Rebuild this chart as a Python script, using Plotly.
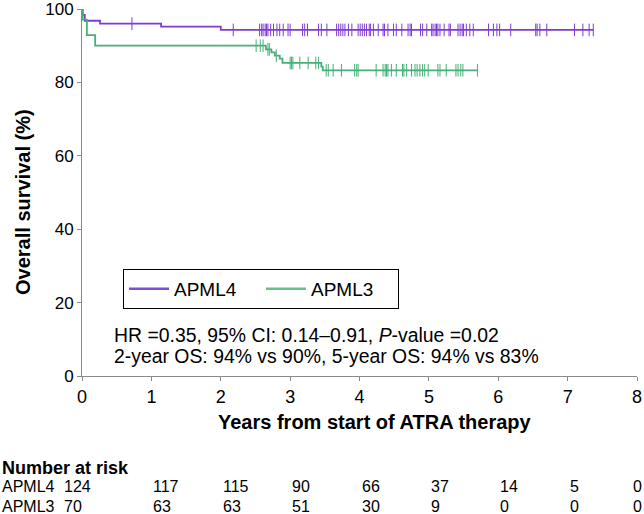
import plotly.graph_objects as go
import numpy as np

# ---- data ----
apml4_t = [0, 0.01, 0.04, 0.26, 1.14, 2.0, 7.37]
apml4_s = [100, 98.4, 96.8, 96.0, 95.2, 94.3, 94.3]
apml4_cens = [0.72, 2.18, 2.56, 2.59, 2.61, 2.64, 2.66, 2.68, 2.72, 2.76, 2.81, 2.85, 2.90,
              2.97, 3.00, 3.18, 3.21, 3.25, 3.41, 3.45, 3.53, 3.67, 3.70, 3.73, 3.76, 3.79,
              3.84, 3.89, 3.98, 4.01, 4.04, 4.07, 4.10, 4.14, 4.16, 4.20, 4.27, 4.34, 4.36,
              4.41, 4.49, 4.53, 4.61, 4.70, 4.73, 4.75, 4.88, 4.91, 4.97, 5.04, 5.06, 5.09,
              5.11, 5.13, 5.16, 5.22, 5.29, 5.31, 5.42, 5.45, 5.48, 5.50, 5.54, 5.59, 5.64,
              5.86, 5.93, 5.98, 6.02, 6.18, 6.54, 6.56, 6.60, 6.70, 7.10, 7.22, 7.31, 7.37]

apml3_t = [0, 0.01, 0.07, 0.19, 2.65, 2.73, 2.78, 2.85, 2.89, 3.45, 3.47, 5.70]
apml3_s = [100, 97.1, 92.9, 90.0, 89.0, 88.2, 87.3, 86.5, 85.3, 84.3, 83.3, 83.3]
apml3_cens = [2.51, 2.57, 2.61, 2.68, 2.70, 2.80, 3.00, 3.02, 3.04, 3.14, 3.26, 3.37, 3.41,
              3.52, 3.55, 3.62, 3.74, 3.93, 3.96, 3.98, 4.24, 4.34, 4.37, 4.39, 4.41, 4.46,
              4.53, 4.62, 4.64, 4.68, 4.75, 4.80, 4.83, 4.87, 4.91, 4.94, 4.99, 5.13, 5.16,
              5.25, 5.39, 5.42, 5.46, 5.49, 5.70]

risk_times = [0, 1, 2, 3, 4, 5, 6, 7, 8]
risk_apml4 = [124, 117, 115, 90, 66, 37, 14, 5, 0]
risk_apml3 = [70, 63, 63, 51, 30, 9, 0, 0, 0]

x_ticks = [0, 1, 2, 3, 4, 5, 6, 7, 8]
y_ticks = [0, 20, 40, 60, 80, 100]

PURPLE = "#7E3BD3"
GREEN = "#45B077"
PURPLE_LEG = "#7C4FD8"
GREEN_LEG = "#6DBE8B"
FONT = "Arial, Liberation Sans, sans-serif"

# plot-area geometry (pixels)
L, R, T, B = 82, 7, 9, 138
PW = 644 - L - R
PH = 514 - T - B


def step_value(ts, ss, t):
    idx = np.searchsorted(ts, t, side="right") - 1
    return ss[max(idx, 0)]


def px_x(px):
    return (px - L) / PW


def px_y(py):
    return (514 - B - py) / PH


fig = go.Figure()

fig.add_trace(go.Scatter(x=apml4_t, y=apml4_s, mode="lines", line=dict(shape="hv", color=PURPLE, width=1.8),
                         showlegend=False))
fig.add_trace(go.Scatter(x=apml3_t, y=apml3_s, mode="lines", line=dict(shape="hv", color=GREEN, width=1.8),
                         showlegend=False))
fig.add_trace(go.Scatter(x=apml4_cens, y=[step_value(apml4_t, apml4_s, t) for t in apml4_cens],
                         mode="markers", showlegend=False,
                         marker=dict(symbol="line-ns", size=9, line=dict(color=PURPLE, width=1))))
fig.add_trace(go.Scatter(x=apml3_cens, y=[step_value(apml3_t, apml3_s, t) for t in apml3_cens],
                         mode="markers", showlegend=False,
                         marker=dict(symbol="line-ns", size=9, line=dict(color=GREEN, width=1))))
# legend entries
fig.add_trace(go.Scatter(x=[None], y=[None], mode="lines", line=dict(color=PURPLE_LEG, width=2.5), name="APML4"))
fig.add_trace(go.Scatter(x=[None], y=[None], mode="lines", line=dict(color=GREEN_LEG, width=2.5), name="APML3"))

annotations = []
# stats text
annotations.append(dict(x=px_x(112), y=px_y(335), xref="paper", yref="paper", xanchor="left",
                        yanchor="middle",
                        text="HR =0.35, 95% CI: 0.14–0.91, <i>P</i>-value =0.02", showarrow=False,
                        font=dict(size=19.4, family=FONT, color="black")))
annotations.append(dict(x=px_x(112), y=px_y(356), xref="paper", yref="paper", xanchor="left",
                        yanchor="middle",
                        text="2-year OS: 94% vs 90%, 5-year OS: 94% vs 83%", showarrow=False,
                        font=dict(size=19.4, family=FONT, color="black")))
# axis titles
annotations.append(dict(x=px_x(375), y=px_y(422), xref="paper", yref="paper", xanchor="center", yanchor="middle",
                        text="<b>Years from start of ATRA therapy</b>", showarrow=False,
                        font=dict(size=20, family=FONT, color="black")))
annotations.append(dict(x=px_x(23), y=px_y(202), xref="paper", yref="paper", xanchor="center",
                        yanchor="middle", textangle=-90,
                        text="<b>Overall survival (%)</b>", showarrow=False,
                        font=dict(size=20, family=FONT, color="black")))
# number at risk
annotations.append(dict(x=px_x(0), y=px_y(468), xref="paper", yref="paper", xanchor="left", yanchor="middle",
                        text="<b>Number at risk</b>", showarrow=False,
                        font=dict(size=18, family=FONT, color="black")))
for row_name, vals, py in [("APML4", risk_apml4, 487), ("APML3", risk_apml3, 506)]:
    yp = px_y(py)
    annotations.append(dict(x=px_x(0), y=yp, xref="paper", yref="paper", xanchor="left", yanchor="middle",
                            text=row_name, showarrow=False, font=dict(size=16, family=FONT, color="black")))
    for t, v in zip(risk_times, vals):
        if t == 0:
            xx = px_x(62)
        elif t == 8:
            xx = px_x(631)
        else:
            xx = t / 8
        annotations.append(dict(x=xx, y=yp, xref="paper", yref="paper", xanchor="left", yanchor="middle",
                                text=str(v), showarrow=False, font=dict(size=16, family=FONT, color="black")))

fig.update_layout(
    width=644, height=514,
    margin=dict(l=L, r=R, t=T, b=B, autoexpand=False),
    paper_bgcolor="white", plot_bgcolor="white",
    font=dict(family=FONT, size=16, color="black"),
    showlegend=True,
    legend=dict(orientation="h", x=px_x(123), y=px_y(269), xanchor="left", yanchor="top",
                bordercolor="black", borderwidth=1, font=dict(size=19, family=FONT, color="black"),
                itemwidth=40, bgcolor="white", entrywidth=82),
    xaxis=dict(range=[0, 8], tickvals=x_ticks, showgrid=False, zeroline=False, automargin=False,
               ticklabeloverflow="allow",
               showline=True, linecolor="#8a8a8a", linewidth=1, ticks="outside", ticklen=4,
               tickcolor="#8a8a8a", tickfont=dict(size=18, family=FONT, color="black")),
    yaxis=dict(range=[0, 100], tickvals=y_ticks, showgrid=False, zeroline=False, automargin=False,
               ticklabeloverflow="allow",
               showline=True, linecolor="#8a8a8a", linewidth=1, ticks="outside", ticklen=4,
               tickcolor="#8a8a8a", tickfont=dict(size=17, family=FONT, color="black")),
    annotations=annotations,
)

fig.write_html("out.html", config={"displayModeBar": False},
               post_script="document.body.style.margin='0';document.body.style.overflow='hidden';")
